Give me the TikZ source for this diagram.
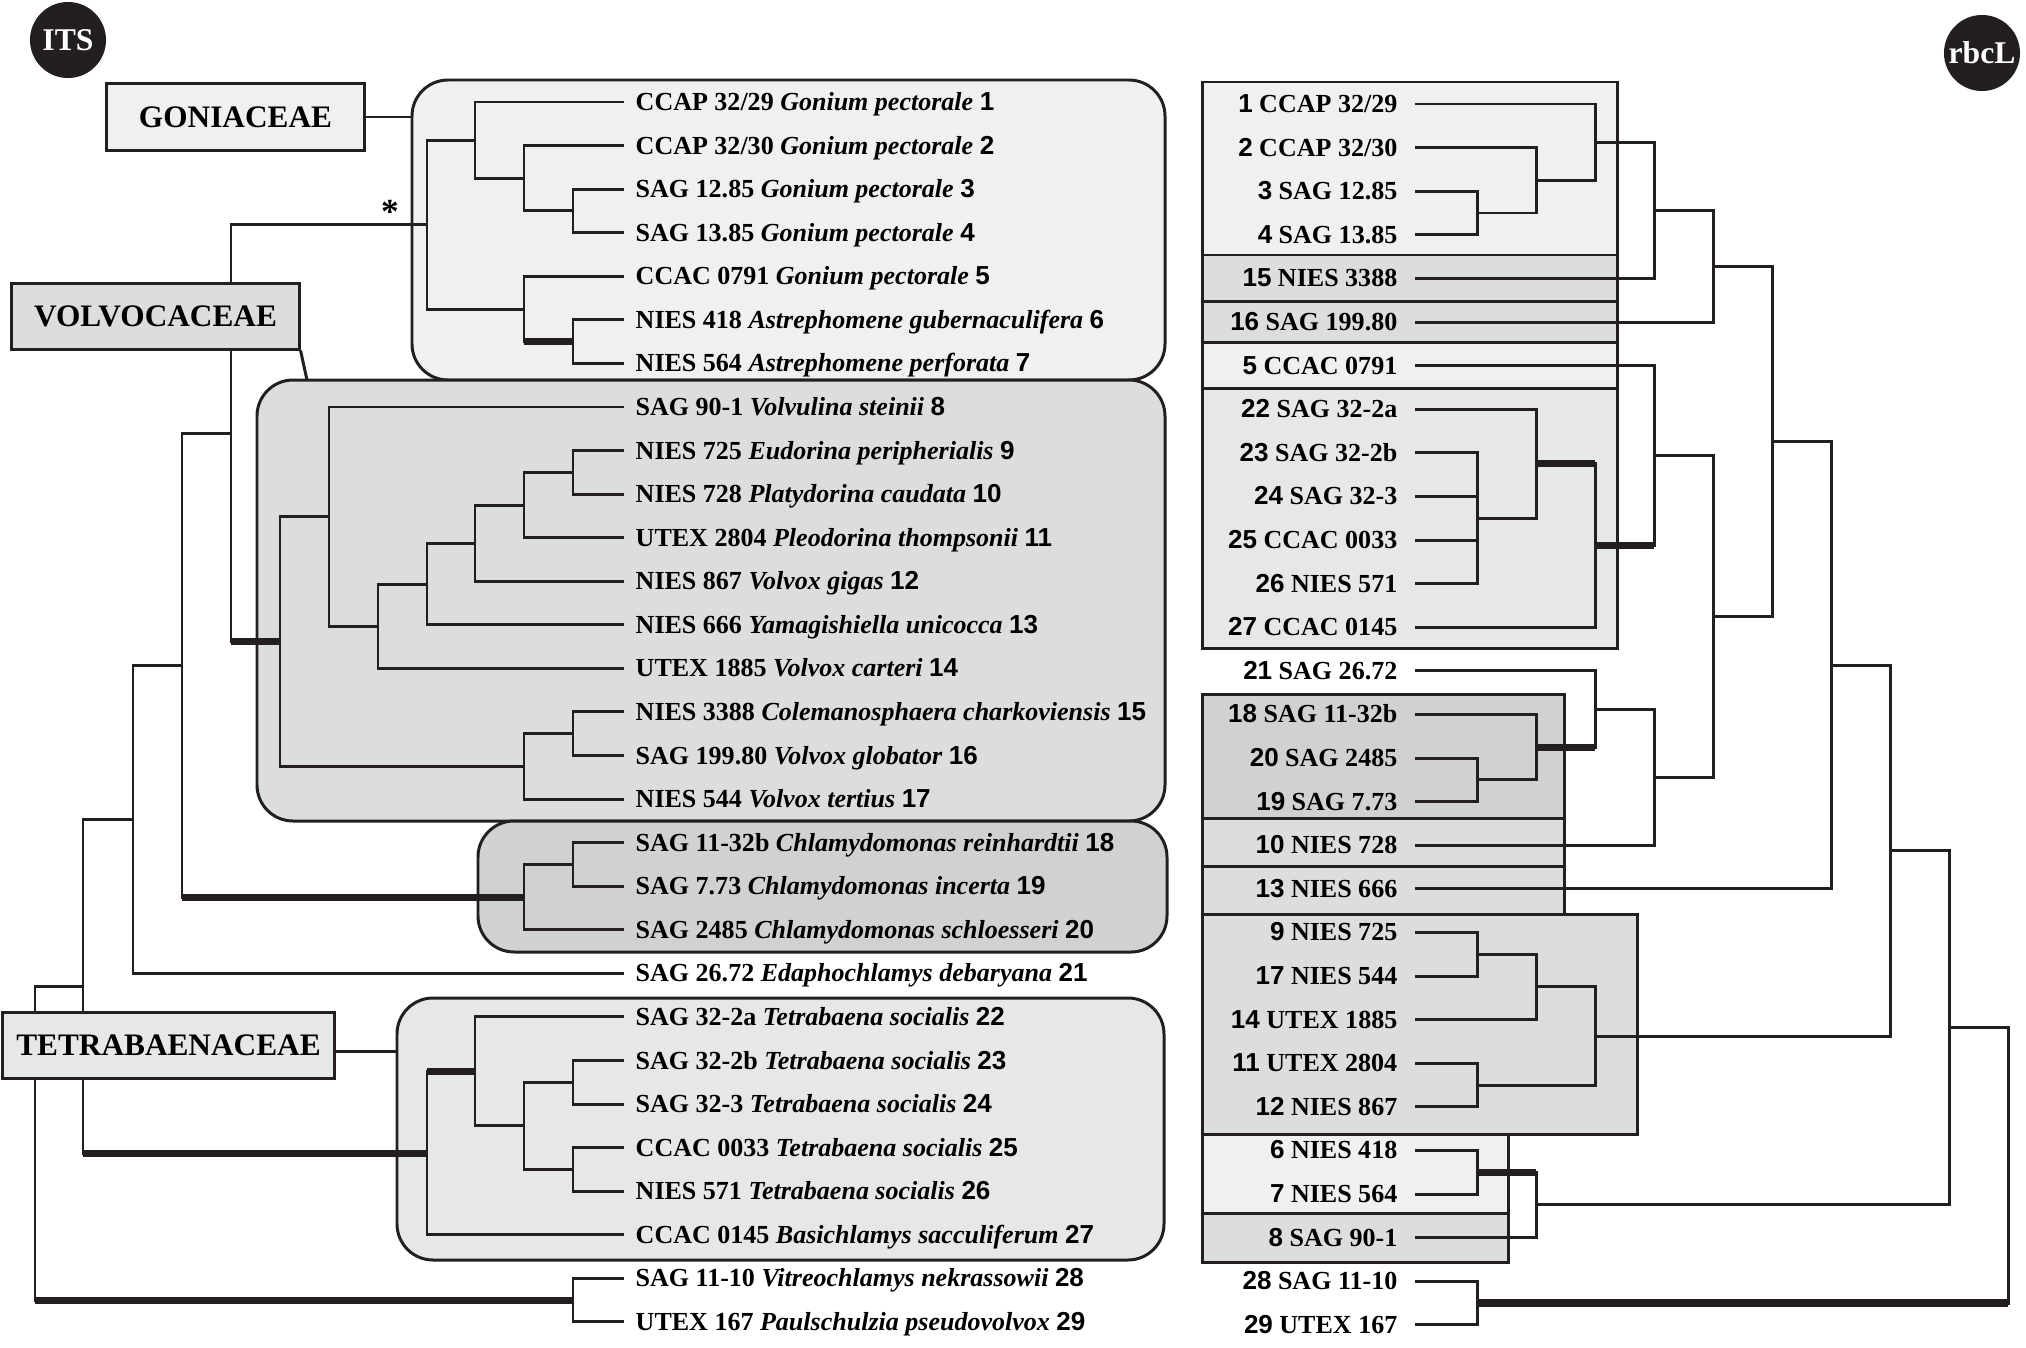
\documentclass[tikz,border=0pt]{standalone}
\usepackage{fontspec}
\setmainfont{Liberation Serif}
\newfontfamily\numf{Liberation Sans}
\usetikzlibrary{fit}
\definecolor{ink}{HTML}{231F20}
\definecolor{gonf}{HTML}{F0F0F0}
\definecolor{volf}{HTML}{DCDDDF}
\definecolor{chlf}{HTML}{D0D1D3}
\definecolor{tetf}{HTML}{E6E7E7}
\newcommand\LL[3]{\textbf{#1 \textit{#2}} {\numf\bfseries #3}}
\newcommand\RL[2]{{\numf\bfseries #1} \textbf{#2}}
\newcommand\kid[2]{\draw[br] (#1) |- (#2);}
\newcommand\tkid[2]{\draw[br] (#1) |- (#2); \draw[tk] (#1 |- #2) -- (#2);}
\tikzset{
  br/.style={draw=ink, line width=0.85pt, line cap=rect},
  tk/.style={draw=ink, line width=2pt},
  grp/.style={draw=ink, line width=0.85pt, rounded corners=0.36cm, inner sep=0pt},
  rbox/.style={draw=ink, line width=0.85pt, inner sep=0pt},
  fam/.style={draw=ink, line width=0.85pt, inner sep=0pt, font=\fontsize{8.9}{10}\selectfont\bfseries},
  lab/.style={inner sep=0pt, anchor=base west, font=\fontsize{7.4}{9}\selectfont},
  rlab/.style={inner sep=0pt, anchor=base east, font=\fontsize{7.4}{9}\selectfont},
  badge/.style={circle, fill=ink, inner sep=0pt, minimum size=0.76cm, text=white, font=\fontsize{9}{10}\selectfont\bfseries}
}
\begin{document}
\begin{tikzpicture}[x=0.01cm, y=-0.01cm]
\useasboundingbox (0,0) rectangle (2026,1348);

% ---------- left group boxes ----------
\node[grp, fill=gonf, fit={(412,80) (1165,380)}] (gG) {};
\node[grp, fill=volf, fit={(257,380) (1165,821)}] (gV) {};
\node[grp, fill=chlf, fit={(478,821) (1167,952)}] (gC) {};
\node[grp, fill=tetf, fit={(397,998) (1164,1260)}] (gT) {};

% ---------- right boxes ----------
\node[rbox, fill=gonf, fit={(1202,82) (1617,255)}] (rbA) {};
\node[rbox, fill=volf, fit={(1202,255) (1617,301)}] (rbB) {};
\node[rbox, fill=volf, fit={(1202,301) (1617,342)}] (rbC) {};
\node[rbox, fill=gonf, fit={(1202,342) (1617,388)}] (rbD) {};
\node[rbox, fill=tetf, fit={(1202,388) (1617,648)}] (rbE) {};
\node[rbox, fill=chlf, fit={(1202,694) (1564,818)}] (rbF) {};
\node[rbox, fill=volf, fit={(1202,818) (1564,866)}] (rbG) {};
\node[rbox, fill=volf, fit={(1202,866) (1564,914)}] (rbH) {};
\node[rbox, fill=volf, fit={(1202,914) (1637,1134)}] (rbI) {};
\node[rbox, fill=gonf, fit={(1202,1134) (1508,1213)}] (rbJ) {};
\node[rbox, fill=volf, fit={(1202,1213) (1508,1262)}] (rbK) {};

% ---------- leaves ----------
\foreach \i in {1,...,29} {\coordinate (L\i) at (623,{102+(\i-1)*43.57});}
\foreach \n [count=\k from 0] in {1,2,3,4,15,16,5,22,23,24,25,26,27,21,18,20,19,10,13,9,17,14,11,12,6,7,8,28,29}
  {\coordinate (R\n) at (1416,{104+\k*43.6});}

% ---------- left tree internal nodes ----------
\coordinate (G34) at (573,210.9);
\coordinate (G234) at (524,178.3);
\coordinate (G1) at (475,140.1);
\coordinate (G67) at (573,341.7);
\coordinate (G567) at (524,309.0);
\coordinate (Gon) at (427,224.6);
\coordinate (V910) at (573,472.4);
\coordinate (V11) at (524,505.0);
\coordinate (V12) at (475,543.2);
\coordinate (V13) at (427,584.0);
\coordinate (V14) at (378,626.2);
\coordinate (V8) at (329,516.6);
\coordinate (V1516) at (573,733.8);
\coordinate (V17) at (524,766.5);
\coordinate (Vol) at (280,641.5);
\coordinate (GV) at (231,433.1);
\coordinate (C1819) at (573,864.5);
\coordinate (C20) at (524,897.2);
\coordinate (GVC) at (182,665.1);
\coordinate (GVC21) at (133,819.3);
\coordinate (T2324) at (573,1082.3);
\coordinate (T2526) at (573,1169.5);
\coordinate (T2326) at (524,1125.9);
\coordinate (T22) at (475,1071.5);
\coordinate (T27) at (427,1153.2);
\coordinate (VT) at (83,986.3);
\coordinate (O2829) at (573,1300.2);
\coordinate (Root) at (35,1143.2);

\kid{G34}{L3} \kid{G34}{L4}
\kid{G234}{L2} \kid{G234}{G34}
\kid{G1}{L1} \kid{G1}{G234}
\kid{G67}{L6} \kid{G67}{L7}
\kid{G567}{L5} \tkid{G567}{G67}
\kid{Gon}{G1} \kid{Gon}{G567}
\kid{GV}{Gon} \tkid{GV}{Vol}
\kid{V910}{L9} \kid{V910}{L10}
\kid{V11}{V910} \kid{V11}{L11}
\kid{V12}{V11} \kid{V12}{L12}
\kid{V13}{V12} \kid{V13}{L13}
\kid{V14}{V13} \kid{V14}{L14}
\kid{V8}{L8} \kid{V8}{V14}
\kid{V1516}{L15} \kid{V1516}{L16}
\kid{V17}{V1516} \kid{V17}{L17}
\kid{Vol}{V8} \kid{Vol}{V17}
\kid{C1819}{L18} \kid{C1819}{L19}
\kid{C20}{C1819} \kid{C20}{L20}
\kid{GVC}{GV} \tkid{GVC}{C20}
\kid{GVC21}{GVC} \kid{GVC21}{L21}
\kid{T2324}{L23} \kid{T2324}{L24}
\kid{T2526}{L25} \kid{T2526}{L26}
\kid{T2326}{T2324} \kid{T2326}{T2526}
\kid{T22}{L22} \kid{T22}{T2326}
\tkid{T27}{T22} \kid{T27}{L27}
\kid{VT}{GVC21} \tkid{VT}{T27}
\kid{O2829}{L28} \kid{O2829}{L29}
\kid{Root}{VT} \tkid{Root}{O2829}

% ---------- right tree internal nodes ----------
\coordinate (Q34) at (1477,213.0);
\coordinate (Q234) at (1536,180.3);
\coordinate (Q1) at (1595,142.2);
\coordinate (Q15) at (1654,210.3);
\coordinate (Q16) at (1713,266.2);
\coordinate (Q2326) at (1477,518.2);
\coordinate (Q22) at (1536,463.7);
\coordinate (Q27) at (1595,545.5);
\coordinate (Q5) at (1654,455.6);
\coordinate (Q2019) at (1477,779.8);
\coordinate (Q18) at (1536,747.1);
\coordinate (Q21) at (1595,709.0);
\coordinate (Q10) at (1654,777.1);
\coordinate (Q5T) at (1713,616.4);
\coordinate (QGT) at (1772,441.3);
\coordinate (Q13) at (1831,665.1);
\coordinate (Q917) at (1477,954.2);
\coordinate (Q14) at (1536,986.9);
\coordinate (Q1112) at (1477,1085.0);
\coordinate (QV) at (1595,1036.0);
\coordinate (QAll) at (1890,850.6);
\coordinate (Q67) at (1477,1172.2);
\coordinate (Q8) at (1536,1204.9);
\coordinate (QA8) at (1949,1027.8);
\coordinate (Q2829) at (1477,1303.0);
\coordinate (Qroot) at (2008,1165.4);

\kid{Q34}{R3} \kid{Q34}{R4}
\kid{Q234}{R2} \kid{Q234}{Q34}
\kid{Q1}{R1} \kid{Q1}{Q234}
\kid{Q15}{Q1} \kid{Q15}{R15}
\kid{Q16}{Q15} \kid{Q16}{R16}
\kid{Q2326}{R23} \kid{Q2326}{R24} \kid{Q2326}{R25} \kid{Q2326}{R26}
\kid{Q22}{R22} \kid{Q22}{Q2326}
\tkid{Q27}{Q22} \kid{Q27}{R27}
\kid{Q5}{R5} \tkid{Q5}{Q27}
\kid{Q2019}{R20} \kid{Q2019}{R19}
\kid{Q18}{R18} \kid{Q18}{Q2019}
\kid{Q21}{R21} \tkid{Q21}{Q18}
\kid{Q10}{Q21} \kid{Q10}{R10}
\kid{Q5T}{Q5} \kid{Q5T}{Q10}
\kid{QGT}{Q16} \kid{QGT}{Q5T}
\kid{Q13}{QGT} \kid{Q13}{R13}
\kid{Q917}{R9} \kid{Q917}{R17}
\kid{Q14}{Q917} \kid{Q14}{R14}
\kid{Q1112}{R11} \kid{Q1112}{R12}
\kid{QV}{Q14} \kid{QV}{Q1112}
\kid{QAll}{Q13} \kid{QAll}{QV}
\kid{Q67}{R6} \kid{Q67}{R7}
\tkid{Q8}{Q67} \kid{Q8}{R8}
\kid{QA8}{QAll} \kid{QA8}{Q8}
\kid{Q2829}{R28} \kid{Q2829}{R29}
\kid{Qroot}{QA8} \tkid{Qroot}{Q2829}

% ---------- family labels ----------
\node[fam, fill=gonf, minimum width=2.57cm, minimum height=0.66cm] (fG) at (235.5,117) {GONIACEAE};
\node[fam, fill=volf, minimum width=2.87cm, minimum height=0.65cm] (fV) at (155.5,316.5) {VOLVOCACEAE};
\node[fam, fill=tetf, minimum width=3.31cm, minimum height=0.65cm] (fT) at (168.5,1045.5) {TETRABAENACEAE};
\coordinate (vtop) at (307,380);
\draw[br, line cap=butt] (fG.east) -- (fG.east -| gG.west);
\draw[br, line cap=butt] (fV.south east) -- (vtop);
\draw[br, line cap=butt] ([yshift=-0.055cm]fT.east) -- ([yshift=-0.055cm]fT.east -| gT.west);

% ---------- badges ----------
\node[badge] (its) at (68,40) {ITS};
\node[badge] (rbcl) at (1982,53) {rbcL};
\node[inner sep=0pt, font=\fontsize{10}{10}\selectfont\bfseries] (ast) at (390,212) {*};

% ---------- left labels ----------
\node[lab] (t1) at ([xshift=0.12cm,yshift=-0.085cm]L1) {\LL{CCAP 32/29}{Gonium pectorale}{1}};
\node[lab] (t2) at ([xshift=0.12cm,yshift=-0.085cm]L2) {\LL{CCAP 32/30}{Gonium pectorale}{2}};
\node[lab] (t3) at ([xshift=0.12cm,yshift=-0.085cm]L3) {\LL{SAG 12.85}{Gonium pectorale}{3}};
\node[lab] (t4) at ([xshift=0.12cm,yshift=-0.085cm]L4) {\LL{SAG 13.85}{Gonium pectorale}{4}};
\node[lab] (t5) at ([xshift=0.12cm,yshift=-0.085cm]L5) {\LL{CCAC 0791}{Gonium pectorale}{5}};
\node[lab] (t6) at ([xshift=0.12cm,yshift=-0.085cm]L6) {\LL{NIES 418}{Astrephomene gubernaculifera}{6}};
\node[lab] (t7) at ([xshift=0.12cm,yshift=-0.085cm]L7) {\LL{NIES 564}{Astrephomene perforata}{7}};
\node[lab] (t8) at ([xshift=0.12cm,yshift=-0.085cm]L8) {\LL{SAG 90-1}{Volvulina steinii}{8}};
\node[lab] (t9) at ([xshift=0.12cm,yshift=-0.085cm]L9) {\LL{NIES 725}{Eudorina peripherialis}{9}};
\node[lab] (t10) at ([xshift=0.12cm,yshift=-0.085cm]L10) {\LL{NIES 728}{Platydorina caudata}{10}};
\node[lab] (t11) at ([xshift=0.12cm,yshift=-0.085cm]L11) {\LL{UTEX 2804}{Pleodorina thompsonii}{11}};
\node[lab] (t12) at ([xshift=0.12cm,yshift=-0.085cm]L12) {\LL{NIES 867}{Volvox gigas}{12}};
\node[lab] (t13) at ([xshift=0.12cm,yshift=-0.085cm]L13) {\LL{NIES 666}{Yamagishiella unicocca}{13}};
\node[lab] (t14) at ([xshift=0.12cm,yshift=-0.085cm]L14) {\LL{UTEX 1885}{Volvox carteri}{14}};
\node[lab] (t15) at ([xshift=0.12cm,yshift=-0.085cm]L15) {\LL{NIES 3388}{Colemanosphaera charkoviensis}{15}};
\node[lab] (t16) at ([xshift=0.12cm,yshift=-0.085cm]L16) {\LL{SAG 199.80}{Volvox globator}{16}};
\node[lab] (t17) at ([xshift=0.12cm,yshift=-0.085cm]L17) {\LL{NIES 544}{Volvox tertius}{17}};
\node[lab] (t18) at ([xshift=0.12cm,yshift=-0.085cm]L18) {\LL{SAG 11-32b}{Chlamydomonas reinhardtii}{18}};
\node[lab] (t19) at ([xshift=0.12cm,yshift=-0.085cm]L19) {\LL{SAG 7.73}{Chlamydomonas incerta}{19}};
\node[lab] (t20) at ([xshift=0.12cm,yshift=-0.085cm]L20) {\LL{SAG 2485}{Chlamydomonas schloesseri}{20}};
\node[lab] (t21) at ([xshift=0.12cm,yshift=-0.085cm]L21) {\LL{SAG 26.72}{Edaphochlamys debaryana}{21}};
\node[lab] (t22) at ([xshift=0.12cm,yshift=-0.085cm]L22) {\LL{SAG 32-2a}{Tetrabaena socialis}{22}};
\node[lab] (t23) at ([xshift=0.12cm,yshift=-0.085cm]L23) {\LL{SAG 32-2b}{Tetrabaena socialis}{23}};
\node[lab] (t24) at ([xshift=0.12cm,yshift=-0.085cm]L24) {\LL{SAG 32-3}{Tetrabaena socialis}{24}};
\node[lab] (t25) at ([xshift=0.12cm,yshift=-0.085cm]L25) {\LL{CCAC 0033}{Tetrabaena socialis}{25}};
\node[lab] (t26) at ([xshift=0.12cm,yshift=-0.085cm]L26) {\LL{NIES 571}{Tetrabaena socialis}{26}};
\node[lab] (t27) at ([xshift=0.12cm,yshift=-0.085cm]L27) {\LL{CCAC 0145}{Basichlamys sacculiferum}{27}};
\node[lab] (t28) at ([xshift=0.12cm,yshift=-0.085cm]L28) {\LL{SAG 11-10}{Vitreochlamys nekrassowii}{28}};
\node[lab] (t29) at ([xshift=0.12cm,yshift=-0.085cm]L29) {\LL{UTEX 167}{Paulschulzia pseudovolvox}{29}};

% ---------- right labels ----------
\node[rlab] (s1) at ([xshift=-0.18cm,yshift=-0.085cm]R1) {\RL{1}{CCAP 32/29}};
\node[rlab] (s2) at ([xshift=-0.18cm,yshift=-0.085cm]R2) {\RL{2}{CCAP 32/30}};
\node[rlab] (s3) at ([xshift=-0.18cm,yshift=-0.085cm]R3) {\RL{3}{SAG 12.85}};
\node[rlab] (s4) at ([xshift=-0.18cm,yshift=-0.085cm]R4) {\RL{4}{SAG 13.85}};
\node[rlab] (s15) at ([xshift=-0.18cm,yshift=-0.085cm]R15) {\RL{15}{NIES 3388}};
\node[rlab] (s16) at ([xshift=-0.18cm,yshift=-0.085cm]R16) {\RL{16}{SAG 199.80}};
\node[rlab] (s5) at ([xshift=-0.18cm,yshift=-0.085cm]R5) {\RL{5}{CCAC 0791}};
\node[rlab] (s22) at ([xshift=-0.18cm,yshift=-0.085cm]R22) {\RL{22}{SAG 32-2a}};
\node[rlab] (s23) at ([xshift=-0.18cm,yshift=-0.085cm]R23) {\RL{23}{SAG 32-2b}};
\node[rlab] (s24) at ([xshift=-0.18cm,yshift=-0.085cm]R24) {\RL{24}{SAG 32-3}};
\node[rlab] (s25) at ([xshift=-0.18cm,yshift=-0.085cm]R25) {\RL{25}{CCAC 0033}};
\node[rlab] (s26) at ([xshift=-0.18cm,yshift=-0.085cm]R26) {\RL{26}{NIES 571}};
\node[rlab] (s27) at ([xshift=-0.18cm,yshift=-0.085cm]R27) {\RL{27}{CCAC 0145}};
\node[rlab] (s21) at ([xshift=-0.18cm,yshift=-0.085cm]R21) {\RL{21}{SAG 26.72}};
\node[rlab] (s18) at ([xshift=-0.18cm,yshift=-0.085cm]R18) {\RL{18}{SAG 11-32b}};
\node[rlab] (s20) at ([xshift=-0.18cm,yshift=-0.085cm]R20) {\RL{20}{SAG 2485}};
\node[rlab] (s19) at ([xshift=-0.18cm,yshift=-0.085cm]R19) {\RL{19}{SAG 7.73}};
\node[rlab] (s10) at ([xshift=-0.18cm,yshift=-0.085cm]R10) {\RL{10}{NIES 728}};
\node[rlab] (s13) at ([xshift=-0.18cm,yshift=-0.085cm]R13) {\RL{13}{NIES 666}};
\node[rlab] (s9) at ([xshift=-0.18cm,yshift=-0.085cm]R9) {\RL{9}{NIES 725}};
\node[rlab] (s17) at ([xshift=-0.18cm,yshift=-0.085cm]R17) {\RL{17}{NIES 544}};
\node[rlab] (s14) at ([xshift=-0.18cm,yshift=-0.085cm]R14) {\RL{14}{UTEX 1885}};
\node[rlab] (s11) at ([xshift=-0.18cm,yshift=-0.085cm]R11) {\RL{11}{UTEX 2804}};
\node[rlab] (s12) at ([xshift=-0.18cm,yshift=-0.085cm]R12) {\RL{12}{NIES 867}};
\node[rlab] (s6) at ([xshift=-0.18cm,yshift=-0.085cm]R6) {\RL{6}{NIES 418}};
\node[rlab] (s7) at ([xshift=-0.18cm,yshift=-0.085cm]R7) {\RL{7}{NIES 564}};
\node[rlab] (s8) at ([xshift=-0.18cm,yshift=-0.085cm]R8) {\RL{8}{SAG 90-1}};
\node[rlab] (s28) at ([xshift=-0.18cm,yshift=-0.085cm]R28) {\RL{28}{SAG 11-10}};
\node[rlab] (s29) at ([xshift=-0.18cm,yshift=-0.085cm]R29) {\RL{29}{UTEX 167}};
\end{tikzpicture}
\end{document}
